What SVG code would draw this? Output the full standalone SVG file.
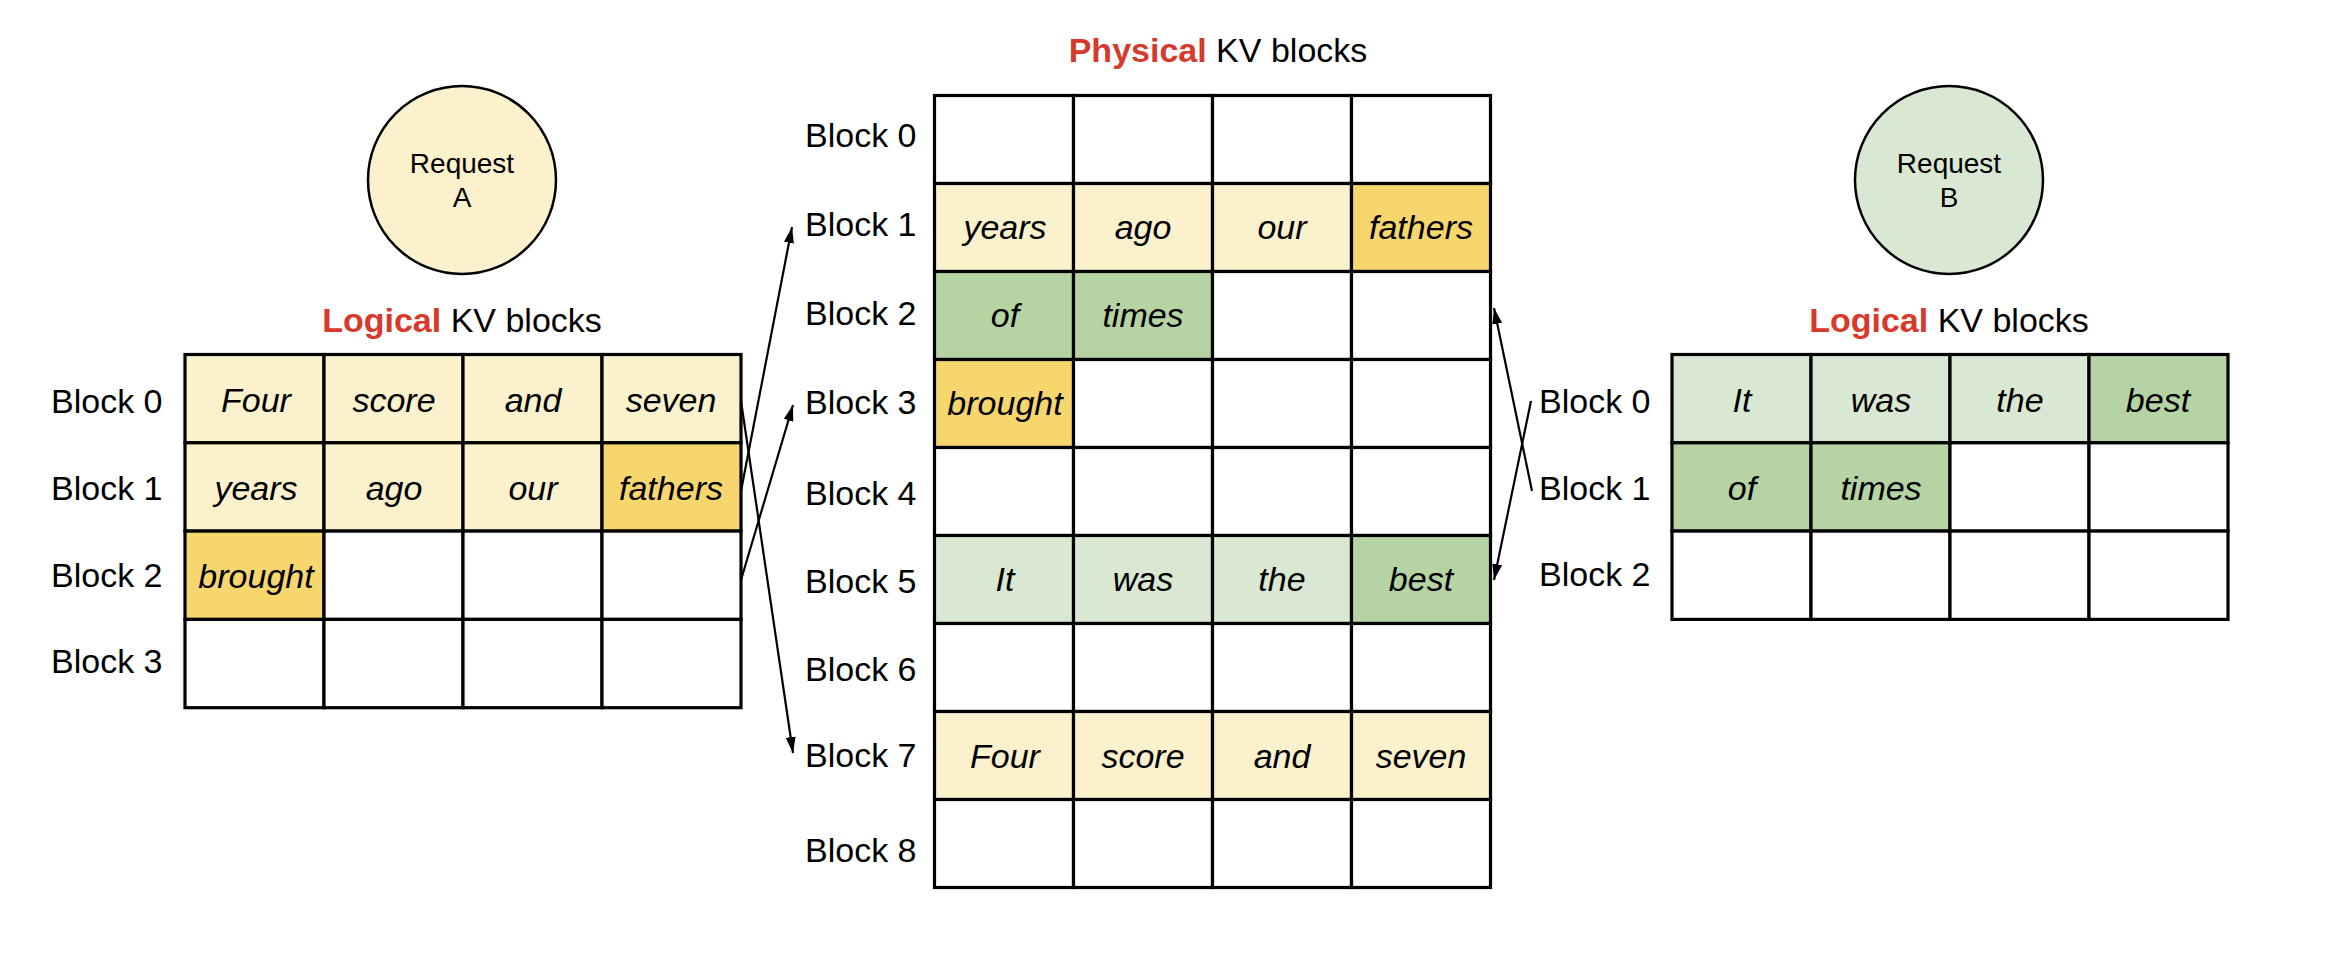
<svg xmlns="http://www.w3.org/2000/svg" width="2332" height="962" viewBox="0 0 2332 962">
<style>
text{font-family:"Liberation Sans",Arial,sans-serif;fill:#000}
.lbl{font-size:34px}
.cell{font-size:34px;font-style:italic;text-anchor:middle}
.title{font-size:34px;text-anchor:middle}
.red{fill:#D7392B;font-weight:bold}
.req{font-size:28px;text-anchor:middle}
.g rect{stroke:#000;stroke-width:3.2}
.w{fill:#fff}.ly{fill:#FBF1CD}.dy{fill:#F7D66D}.lg{fill:#D9E8D2}.dg{fill:#B6D3A4}
.conn line{stroke:#000;stroke-width:2.2;fill:none;marker-end:url(#ah)}
</style>
<defs>
<marker id="ah" markerUnits="userSpaceOnUse" markerWidth="16" markerHeight="10" refX="16" refY="5" orient="auto">
<path d="M0,0 L16,5 L0,10 z" fill="#000"/>
</marker>
</defs>
<rect width="2332" height="962" fill="#fff"/>

<g id="requestA">
<circle cx="462" cy="180" r="94" fill="#FBF1CD" stroke="#000" stroke-width="2.5"/>
<text class="req" x="462" y="173">Request</text>
<text class="req" x="462" y="207">A</text>
</g>
<g id="requestB">
<circle cx="1949" cy="180" r="94" fill="#D9E8D2" stroke="#000" stroke-width="2.5"/>
<text class="req" x="1949" y="173">Request</text>
<text class="req" x="1949" y="207">B</text>
</g>

<g id="logicalA">
<text class="title" x="462" y="332"><tspan class="red">Logical</tspan> KV blocks</text>
<g class="g">
<rect class="ly" x="185" y="354.5" width="139" height="88.3"/>
<rect class="ly" x="324" y="354.5" width="139" height="88.3"/>
<rect class="ly" x="463" y="354.5" width="139" height="88.3"/>
<rect class="ly" x="602" y="354.5" width="139" height="88.3"/>
<rect class="ly" x="185" y="442.8" width="139" height="88.3"/>
<rect class="ly" x="324" y="442.8" width="139" height="88.3"/>
<rect class="ly" x="463" y="442.8" width="139" height="88.3"/>
<rect class="dy" x="602" y="442.8" width="139" height="88.3"/>
<rect class="dy" x="185" y="531.1" width="139" height="88.3"/>
<rect class="w" x="324" y="531.1" width="139" height="88.3"/>
<rect class="w" x="463" y="531.1" width="139" height="88.3"/>
<rect class="w" x="602" y="531.1" width="139" height="88.3"/>
<rect class="w" x="185" y="619.4" width="139" height="88.3"/>
<rect class="w" x="324" y="619.4" width="139" height="88.3"/>
<rect class="w" x="463" y="619.4" width="139" height="88.3"/>
<rect class="w" x="602" y="619.4" width="139" height="88.3"/>
</g>
<text class="cell" x="256" y="412">Four</text>
<text class="cell" x="394" y="412">score</text>
<text class="cell" x="533" y="412">and</text>
<text class="cell" x="671" y="412">seven</text>
<text class="cell" x="256" y="500">years</text>
<text class="cell" x="394" y="500">ago</text>
<text class="cell" x="533" y="500">our</text>
<text class="cell" x="671" y="500">fathers</text>
<text class="cell" x="256" y="588">brought</text>
<text class="lbl" x="51" y="413">Block 0</text>
<text class="lbl" x="51" y="500">Block 1</text>
<text class="lbl" x="51" y="587">Block 2</text>
<text class="lbl" x="51" y="673">Block 3</text>
</g>

<g id="physical">
<text class="title" x="1218" y="62"><tspan class="red">Physical</tspan> KV blocks</text>
<g class="g">
<rect class="w" x="934.5" y="95.5" width="139" height="88"/>
<rect class="w" x="1073.5" y="95.5" width="139" height="88"/>
<rect class="w" x="1212.5" y="95.5" width="139" height="88"/>
<rect class="w" x="1351.5" y="95.5" width="139" height="88"/>
<rect class="ly" x="934.5" y="183.5" width="139" height="88"/>
<rect class="ly" x="1073.5" y="183.5" width="139" height="88"/>
<rect class="ly" x="1212.5" y="183.5" width="139" height="88"/>
<rect class="dy" x="1351.5" y="183.5" width="139" height="88"/>
<rect class="dg" x="934.5" y="271.5" width="139" height="88"/>
<rect class="dg" x="1073.5" y="271.5" width="139" height="88"/>
<rect class="w" x="1212.5" y="271.5" width="139" height="88"/>
<rect class="w" x="1351.5" y="271.5" width="139" height="88"/>
<rect class="dy" x="934.5" y="359.5" width="139" height="88"/>
<rect class="w" x="1073.5" y="359.5" width="139" height="88"/>
<rect class="w" x="1212.5" y="359.5" width="139" height="88"/>
<rect class="w" x="1351.5" y="359.5" width="139" height="88"/>
<rect class="w" x="934.5" y="447.5" width="139" height="88"/>
<rect class="w" x="1073.5" y="447.5" width="139" height="88"/>
<rect class="w" x="1212.5" y="447.5" width="139" height="88"/>
<rect class="w" x="1351.5" y="447.5" width="139" height="88"/>
<rect class="lg" x="934.5" y="535.5" width="139" height="88"/>
<rect class="lg" x="1073.5" y="535.5" width="139" height="88"/>
<rect class="lg" x="1212.5" y="535.5" width="139" height="88"/>
<rect class="dg" x="1351.5" y="535.5" width="139" height="88"/>
<rect class="w" x="934.5" y="623.5" width="139" height="88"/>
<rect class="w" x="1073.5" y="623.5" width="139" height="88"/>
<rect class="w" x="1212.5" y="623.5" width="139" height="88"/>
<rect class="w" x="1351.5" y="623.5" width="139" height="88"/>
<rect class="ly" x="934.5" y="711.5" width="139" height="88"/>
<rect class="ly" x="1073.5" y="711.5" width="139" height="88"/>
<rect class="ly" x="1212.5" y="711.5" width="139" height="88"/>
<rect class="ly" x="1351.5" y="711.5" width="139" height="88"/>
<rect class="w" x="934.5" y="799.5" width="139" height="88"/>
<rect class="w" x="1073.5" y="799.5" width="139" height="88"/>
<rect class="w" x="1212.5" y="799.5" width="139" height="88"/>
<rect class="w" x="1351.5" y="799.5" width="139" height="88"/>
</g>
<text class="cell" x="1005" y="239">years</text>
<text class="cell" x="1143" y="239">ago</text>
<text class="cell" x="1282" y="239">our</text>
<text class="cell" x="1421" y="239">fathers</text>
<text class="cell" x="1005" y="327">of</text>
<text class="cell" x="1143" y="327">times</text>
<text class="cell" x="1005" y="415">brought</text>
<text class="cell" x="1005" y="591">It</text>
<text class="cell" x="1143" y="591">was</text>
<text class="cell" x="1282" y="591">the</text>
<text class="cell" x="1421" y="591">best</text>
<text class="cell" x="1005" y="768">Four</text>
<text class="cell" x="1143" y="768">score</text>
<text class="cell" x="1282" y="768">and</text>
<text class="cell" x="1421" y="768">seven</text>
<text class="lbl" x="805" y="147">Block 0</text>
<text class="lbl" x="805" y="236">Block 1</text>
<text class="lbl" x="805" y="325">Block 2</text>
<text class="lbl" x="805" y="414">Block 3</text>
<text class="lbl" x="805" y="505">Block 4</text>
<text class="lbl" x="805" y="593">Block 5</text>
<text class="lbl" x="805" y="681">Block 6</text>
<text class="lbl" x="805" y="767">Block 7</text>
<text class="lbl" x="805" y="862">Block 8</text>
</g>

<g id="logicalB">
<text class="title" x="1949" y="332"><tspan class="red">Logical</tspan> KV blocks</text>
<g class="g">
<rect class="lg" x="1672" y="354.5" width="139" height="88.3"/>
<rect class="lg" x="1811" y="354.5" width="139" height="88.3"/>
<rect class="lg" x="1950" y="354.5" width="139" height="88.3"/>
<rect class="dg" x="2089" y="354.5" width="139" height="88.3"/>
<rect class="dg" x="1672" y="442.8" width="139" height="88.3"/>
<rect class="dg" x="1811" y="442.8" width="139" height="88.3"/>
<rect class="w" x="1950" y="442.8" width="139" height="88.3"/>
<rect class="w" x="2089" y="442.8" width="139" height="88.3"/>
<rect class="w" x="1672" y="531.1" width="139" height="88.3"/>
<rect class="w" x="1811" y="531.1" width="139" height="88.3"/>
<rect class="w" x="1950" y="531.1" width="139" height="88.3"/>
<rect class="w" x="2089" y="531.1" width="139" height="88.3"/>
</g>
<text class="cell" x="1742" y="412">It</text>
<text class="cell" x="1881" y="412">was</text>
<text class="cell" x="2020" y="412">the</text>
<text class="cell" x="2158" y="412">best</text>
<text class="cell" x="1742" y="500">of</text>
<text class="cell" x="1881" y="500">times</text>
<text class="lbl" x="1539" y="413">Block 0</text>
<text class="lbl" x="1539" y="500">Block 1</text>
<text class="lbl" x="1539" y="586">Block 2</text>
</g>

<g id="connectors" class="conn">
<line x1="741" y1="401" x2="793" y2="753"/>
<line x1="741" y1="491" x2="792" y2="227"/>
<line x1="741" y1="580" x2="793" y2="405"/>
<line x1="1531" y1="401" x2="1494" y2="580"/>
<line x1="1532" y1="491" x2="1494" y2="308"/>
</g>
</svg>
